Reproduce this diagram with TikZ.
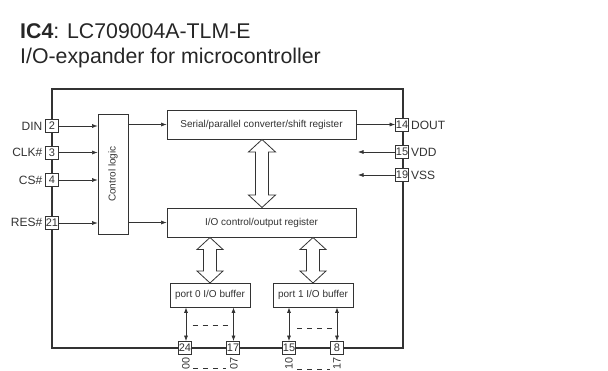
\documentclass[tikz,border=0pt]{standalone}
\usepackage{fontspec}
\setmainfont{Liberation Sans}
\definecolor{ink}{HTML}{333333}
\tikzset{
  box/.style={draw=ink,line width=0.8pt,fill=white,inner sep=0pt,text=ink,font=\fontsize{10}{10}\selectfont},
  pin/.style={draw=ink,line width=0.8pt,fill=white,inner sep=0pt,minimum width=13pt,minimum height=13pt,text=ink,font=\fontsize{11}{11}\selectfont},
  lab/.style={text=ink,inner sep=0pt,font=\fontsize{12}{12}\selectfont},
  sidelab/.style={text=ink,inner sep=0pt,rotate=90,anchor=east,font=\fontsize{10.8}{11}\selectfont},
  conn/.style={draw=ink,line width=0.6pt,-{Latex[length=5.5pt,width=4pt]}},
  biconn/.style={draw=ink,line width=0.7pt,{Latex[length=5.5pt,width=4pt]}-{Latex[length=5.5pt,width=4pt]}},
  dashline/.style={draw=ink,line width=0.7pt,dash pattern=on 5pt off 5pt},
  fat/.style={draw=ink,line width=0.8pt,fill=white,line join=miter},
  title/.style={anchor=west,inner sep=0pt,text=black!85,font=\fontsize{21.3}{22}\selectfont}
}
\usetikzlibrary{arrows.meta}
\begin{document}
\begin{tikzpicture}[x=1pt,y=-1pt]
\useasboundingbox (0,0) rectangle (608,370);
\node[title] (t1) at (20,31.5) {\textbf{IC4}: LC709004A-TLM-E};
\node[title] (t2) at (20,57.5) {I/O-expander for microcontroller};
\node[draw=ink,line width=1.5pt,minimum width=351pt,minimum height=259pt,inner sep=0pt] (chip) at (227.5,218.5) {};
\node[box,minimum width=30pt,minimum height=120pt] (ctl) at (113,174) {};
\node[text=ink,rotate=90,inner sep=0pt,font=\fontsize{10}{10}\selectfont] (ctltxt) at (ctl.center) {Control logic};
\node[box,minimum width=189pt,minimum height=29pt] (ser) at (261.5,124.5) {Serial/parallel converter/shift register};
\node[box,minimum width=189pt,minimum height=29pt] (io) at (261.5,222.5) {I/O control/output register};
\node[box,minimum width=80pt,minimum height=24pt] (p0) at (210,295) {port 0 I/O buffer};
\node[box,minimum width=80pt,minimum height=24pt] (p1) at (313,295) {port 1 I/O buffer};
\node[pin] (n2) at (52,126) {2};
\node[pin] (n3) at (52,152.5) {3};
\node[pin] (n4) at (52,180) {4};
\node[pin] (n21) at (52,223) {21};
\node[pin] (n14) at (402,125) {14};
\node[pin] (n15) at (402,152) {15};
\node[pin] (n19) at (402,175) {19};
\node[pin] (n24) at (185,348) {24};
\node[pin] (n17) at (233,348) {17};
\node[pin] (n15b) at (289,348) {15};
\node[pin] (n8) at (337,348) {8};
\node[lab,anchor=east] (din) at (42.5,126) {DIN};
\node[lab,anchor=east] (clk) at (42.5,152.5) {CLK\#};
\node[lab,anchor=east] (cs) at (42.5,180) {CS\#};
\node[lab,anchor=east] (res) at (42.5,222.5) {RES\#};
\node[lab,anchor=west] (dout) at (411,125.5) {DOUT};
\node[lab,anchor=west] (vdd) at (411,152.5) {VDD};
\node[lab,anchor=west] (vss) at (411,175) {VSS};
\node[sidelab] (l00) at (186,357.5) {00};
\node[sidelab] (l07) at (234,357.5) {07};
\node[sidelab] (l10) at (289,357.5) {10};
\node[sidelab] (l17) at (337,357.5) {17};
\coordinate (c15) at (358,152);
\coordinate (c19) at (358,175);
\coordinate (a1) at (192.5,325);\coordinate (a2) at (228,325);
\coordinate (b1) at (297,328);\coordinate (b2) at (332,328);
\coordinate (d1) at (193,368);\coordinate (d2) at (226,368);
\coordinate (e1) at (297,369);\coordinate (e2) at (330,369);
\draw[conn] (n2.east) -- (ctl.west |- n2);
\draw[conn] (n3.east) -- (ctl.west |- n3);
\draw[conn] (n4.east) -- (ctl.west |- n4);
\draw[conn] (n21.east) -- (ctl.west |- n21);
\draw[conn] (ctl.east |- ser.west) -- (ser.west);
\draw[conn] (ctl.east |- io.west) -- (io.west);
\draw[conn] (ser.east) -- (n14.west |- ser.east);
\draw[conn] (n15.west) -- (c15);
\draw[conn] (n19.west) -- (c19);
\draw[biconn] (n24.north -| 186,0) -- (p0.south -| 186,0);
\draw[biconn] (n17.north -| 233.5,0) -- (p0.south -| 233.5,0);
\draw[biconn] (n15b.north) -- (p1.south -| n15b);
\draw[biconn] (n8.north) -- (p1.south -| n8);
\draw[dashline] (a1) -- (a2);
\draw[dashline] (b1) -- (b2);
\draw[dashline] (d1) -- (d2);
\draw[dashline] (e1) -- (e2);
\foreach \cx/\ya/\yb/\sw/\hw/\hl in {262/139.5/207.5/6.5/13.5/12.5,210/237.5/283/6.5/13/12,313/237.5/283/6.5/13/12}{
  \draw[fat] (\cx,\ya) -- (\cx+\hw,\ya+\hl) -- (\cx+\sw,\ya+\hl) -- (\cx+\sw,\yb-\hl) -- (\cx+\hw,\yb-\hl) -- (\cx,\yb) -- (\cx-\hw,\yb-\hl) -- (\cx-\sw,\yb-\hl) -- (\cx-\sw,\ya+\hl) -- (\cx-\hw,\ya+\hl) -- cycle;
}
\end{tikzpicture}
\end{document}
